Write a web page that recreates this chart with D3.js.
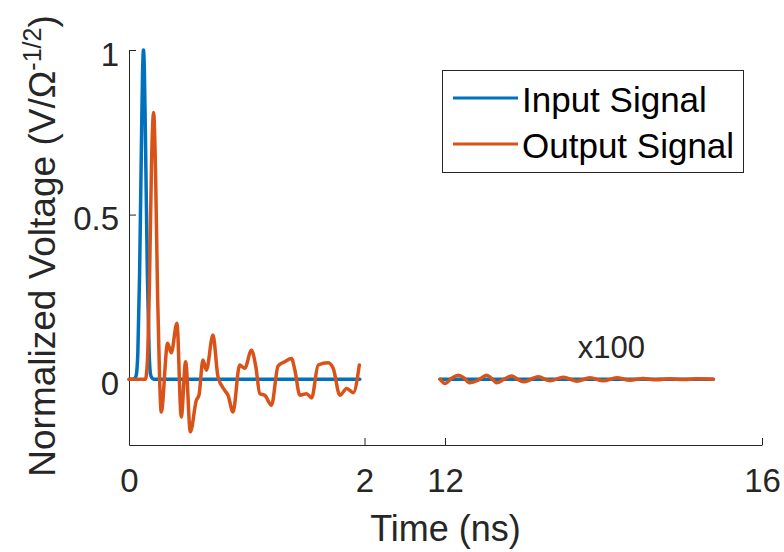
<!DOCTYPE html>
<html>
<head>
  <meta charset="utf-8">
  <title>Input and output signal</title>
  <style>
    body {
      margin: 0;
      padding: 0;
      background: #ffffff;
      font-family: 'Liberation Sans', Arial, sans-serif;
    }
    .axis path, .axis line {
      stroke: #262626;
      stroke-width: 1;
    }
    .axis text {
      fill: #262626;
      font-family: 'Liberation Sans', Arial, sans-serif;
      font-size: 33px;
    }
    .label {
      fill: #262626;
      font-size: 36px;
    }
    .signal {
      fill: none;
      stroke-width: 3.5;
      stroke-linejoin: round;
      stroke-linecap: round;
    }
    .legend text {
      fill: #000000;
      font-size: 35px;
    }
  </style>
</head>
<body>
  <div id="chart"></div>

  <script src="https://d3js.org/d3.v7.min.js"></script>
  <script>

  // time ticks (broken axis: 0-2 ns, then 12-16 ns)
  var timeTicks = [0, 2, 12, 16]
  var voltTicks = [0, 0.5, 1]

  // series names and colours
  var seriesNames = ["Input Signal", "Output Signal"]
  var seriesColors = ["#0072BD", "#D95319"]

  // input signal, first window (ns, normalized voltage)
  var inputTimeA = [0, 0.04, 0.06, 0.075, 0.09, 0.105, 0.115, 0.123, 0.131, 0.141, 0.156, 0.171, 0.186, 0.21, 1.96]
  var inputVoltA = [0, 0, 0.01, 0.08, 0.32, 0.7, 0.93, 1.0, 0.93, 0.7, 0.32, 0.08, 0.01, 0, 0]

  // output signal, first window
  var outputTimeA = [0, 0.14, 0.157, 0.174, 0.191, 0.209, 0.226, 0.243, 0.26, 0.274, 0.328, 0.359, 0.407,
    0.444, 0.481, 0.521, 0.572, 0.594, 0.628, 0.657, 0.713, 0.756, 0.813, 0.841, 0.883, 0.94, 0.983,
    1.04, 1.077, 1.111, 1.153, 1.21, 1.266, 1.323, 1.38, 1.409, 1.451, 1.508, 1.551, 1.607, 1.692,
    1.734, 1.791, 1.849, 1.905, 1.956]
  var outputVoltA = [0, 0, 0.06, 0.3, 0.65, 0.81, 0.62, 0.25, 0, -0.1, 0.109, 0.08, 0.17,
    -0.115, 0.053, -0.16, -0.064, -0.049, 0.058, 0.027, 0.134, 0.007, -0.034, -0.049, -0.1, 0.043, 0.033,
    0.088, 0.038, -0.044, -0.049, -0.079, 0.04, 0.053, 0.063, 0.027, -0.049, -0.044, -0.057, 0.043, 0.05,
    0.033, -0.049, -0.028, -0.041, 0.043]

  // second window (x100)
  var inputTimeB = [11.937, 15.385]
  var inputVoltB = [0, 0]

  var outputTimeB = [11.937, 12.0, 12.084, 12.168, 12.231, 12.315, 12.42, 12.526, 12.589, 12.652, 12.745,
    12.841, 12.912, 12.988, 13.177, 13.325, 13.493, 13.662, 13.83, 13.998, 14.166, 14.334, 14.502,
    14.67, 14.839, 15.007, 15.175, 15.385]
  var outputVoltB = [0, -0.013, 0.003, 0.012, 0.005, -0.011, -0.003, 0.012, 0.002, -0.011, 0,
    0.01, 0, -0.008, 0.007, -0.005, 0.006, -0.006, 0.004, -0.005, 0.004, -0.003, 0.002,
    -0.002, 0.001, -0.001, 0.001, 0]

  var width = 784,
      height = 552

  var plotLeft = 129, plotRight = 762, plotTop = 50, plotBottom = 445

  var svg = d3.select("#chart")
    .append("svg")
    .attr("width", width)
    .attr("height", height)

  // piecewise scale for the broken time axis
  var x = d3.scaleLinear()
    .domain([0, 2, 11.9, 16])
    .range([plotLeft, 364.5, 437.1, plotRight])

  var y = d3.scaleLinear()
    .domain([-0.2, 1])
    .range([plotBottom, plotTop])

  // axes
  var xAxis = svg.append("g")
    .attr("class", "axis")
    .attr("transform", "translate(0," + plotBottom + ")")
    .call(d3.axisBottom(x).tickValues(timeTicks).tickSize(-7).tickSizeOuter(0).tickFormat(d3.format("d")))
  xAxis.selectAll("text").attr("y", 47).attr("dy", 0)

  var yAxis = svg.append("g")
    .attr("class", "axis")
    .attr("transform", "translate(" + plotLeft + ",0)")
    .call(d3.axisLeft(y).tickValues(voltTicks).tickSize(-7).tickSizeOuter(0).tickPadding(10).tickFormat(function (d) { return d }))
  yAxis.selectAll("text").attr("dy", 15)

  // line generator
  var line = d3.line()
    .x(function (d) { return x(d[0]) })
    .y(function (d) { return y(d[1]) })
    .curve(d3.curveMonotoneX)

  var series = [
    [d3.zip(inputTimeA, inputVoltA), d3.zip(inputTimeB, inputVoltB)],
    [d3.zip(outputTimeA, outputVoltA), d3.zip(outputTimeB, outputVoltB)]
  ]

  series.forEach(function (parts, i) {
    svg.append("g")
      .selectAll("path")
      .data(parts)
      .enter().append("path")
      .attr("class", "signal")
      .attr("stroke", seriesColors[i])
      .attr("d", line)
  })

  // magnification note
  svg.append("text")
    .attr("class", "label")
    .attr("x", x(14.1))
    .attr("y", y(0.065))
    .attr("text-anchor", "middle")
    .style("font-size", "31px")
    .text("x100")

  // axis labels
  svg.append("text")
    .attr("class", "label")
    .attr("x", (plotLeft + plotRight) / 2)
    .attr("y", 541)
    .attr("text-anchor", "middle")
    .text("Time (ns)")

  var yLabel = svg.append("text")
    .attr("class", "label")
    .attr("transform", "translate(55," + 246 + ") rotate(-90)")
    .attr("text-anchor", "middle")
    .style("font-size", "37px")
  yLabel.append("tspan").text("Normalized Voltage (V/Ω")
  yLabel.append("tspan").attr("dy", -14).style("font-size", "25px").text("-1/2")
  yLabel.append("tspan").attr("dy", 14).text(")")

  // legend
  var legend = svg.append("g")
    .attr("class", "legend")
    .attr("transform", "translate(442,70)")

  legend.append("rect")
    .attr("x", 0.5)
    .attr("y", 0.5)
    .attr("width", 301)
    .attr("height", 102)
    .attr("fill", "#ffffff")
    .attr("stroke", "#262626")
    .attr("stroke-width", 1)

  var item = legend.selectAll(".item")
    .data(seriesNames)
    .enter().append("g")
    .attr("class", "item")
    .attr("transform", function (d, i) { return "translate(0," + (28 + i * 46) + ")" })

  item.append("line")
    .attr("x1", 11)
    .attr("x2", 76)
    .attr("stroke", function (d, i) { return seriesColors[i] })
    .attr("stroke-width", 3)

  item.append("text")
    .attr("x", 80)
    .attr("y", 14)
    .text(function (d) { return d })

  </script>
</body>
</html>
